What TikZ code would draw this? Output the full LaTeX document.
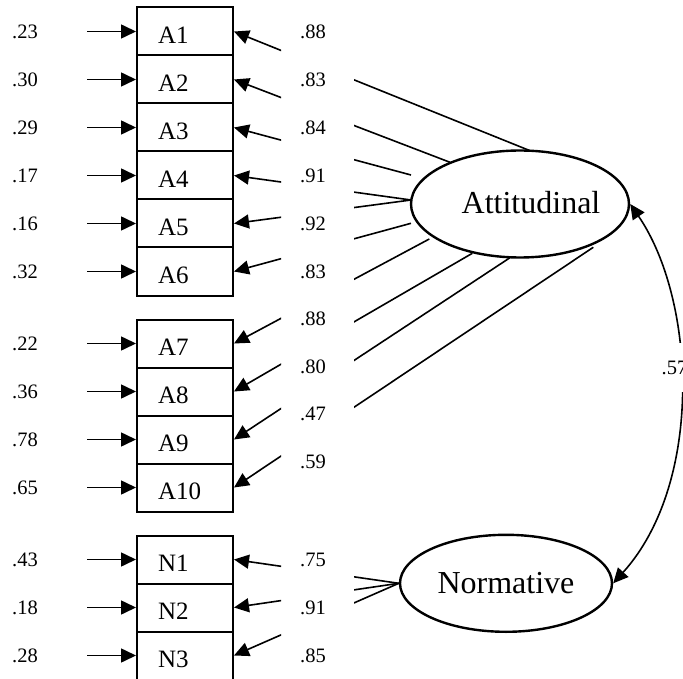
\documentclass[tikz,border=0pt]{standalone}
\usepackage{fontspec}
\setmainfont{Liberation Serif}
\usetikzlibrary{arrows.meta,shapes.geometric,calc}

\begin{document}
\begin{tikzpicture}[x=1pt,y=-1pt,
  item/.style={draw, line width=2pt, rectangle, minimum width=96pt,
    minimum height=48pt, inner sep=0pt, text width=54pt, align=left,
    text height=24pt, text depth=0pt, font=\fontsize{25}{25}\selectfont},
  latent/.style={draw, ellipse, line width=2.4pt, inner sep=0pt,
    font=\fontsize{32}{32}\selectfont},
  num/.style={anchor=base west, inner sep=0pt, font=\fontsize{20.5}{20.5}\selectfont},
  link/.style={line width=1.6pt},
  tip/.style={-{Triangle[length=15pt,width=14pt]}},
  tips/.style={{Triangle[length=15pt,width=14pt]}-{Triangle[length=15pt,width=14pt]}}
]
\useasboundingbox (0,0) rectangle (683,679);
\clip (0,0) rectangle (683,679);

% observed indicators
\foreach \n/\y in {A1/31.5, A2/79.5, A3/127.5, A4/175.5, A5/223.5, A6/271.5,
                   A7/343.5, A8/391.5, A9/439.5, A10/487.5,
                   N1/559.5, N2/607.5, N3/655.5}
  \node[item] (\n) at (185,\y) {\n};

% latent factors
\node[latent, minimum width=218pt, minimum height=107pt] (att) at (520,204)
  {\hspace*{11pt}\raisebox{3pt}{Attitudinal}\hspace*{-11pt}};
\node[latent, minimum width=212pt, minimum height=97pt] (nor) at (506,583.3)
  {\raisebox{-2pt}{Normative}};

% where each loading leaves the attitudinal factor
\coordinate (t1)  at ($(att.center)+(10,-53.3)$);
\coordinate (t2)  at ($(att.center)+(-70,-41.7)$);
\coordinate (t3)  at ($(att.center)+(-109,-29)$);
\coordinate (t4)  at ($(att.center)+(-109,-4)$);
\coordinate (t5)  at ($(att.center)+(-109,-4)$);
\coordinate (t6)  at ($(att.center)+(-109,19.3)$);
\coordinate (t7)  at ($(att.center)+(-90.7,35)$);
\coordinate (t8)  at ($(att.center)+(-47.7,49.3)$);
\coordinate (t9)  at ($(att.center)+(-10,53.7)$);
\coordinate (t10) at ($(att.center)+(73.3,43.3)$);

% error terms
\foreach \n in {A1,A2,A3,A4,A5,A6,A7,A8,A9,A10,N1,N2,N3}
  \draw[link,tip] ([xshift=-49pt]\n.west) -- (\n.west);

% loadings, arrow part next to the indicators
\begin{scope}
  \clip (0,0) rectangle (281,679);
  \foreach \i in {1,...,10}
    \draw[link,tip] (t\i) -- (A\i.east);
  \foreach \i in {1,2,3}
    \draw[link,tip] (nor.west) -- (N\i.east);
\end{scope}

% loadings, line part next to the factors
\begin{scope}
  \clip (354,0) rectangle (683,679);
  \foreach \i in {1,...,10}
    \draw[link] (t\i) -- (A\i.east);
  \foreach \i in {1,2,3}
    \draw[link] (nor.west) -- (N\i.east);
\end{scope}

% error variances
\foreach \v/\y [count=\k] in {.23/31.5, .30/79.5, .29/127.5, .17/175.5, .16/223.5,
    .32/271.5, .22/343.5, .36/391.5, .78/439.5, .65/487.5,
    .43/559.5, .18/607.5, .28/655.5}
  \node[num] (e\k) at (12,\y+7) {\v};

% standardised loadings
\foreach \v/\y [count=\k] in {.88/31.5, .83/79.5, .84/127.5, .91/175.5, .92/223.5,
    .83/271.5, .88/318, .80/366, .47/413.5, .59/461.5,
    .75/559.5, .91/607.5, .85/655.5}
  \node[num] (l\k) at (300,\y+7) {\v};

% factor correlation
\draw[link,tips] (att.east) .. controls +(66,96.5) and +(90.5,-100.2) .. (nor.east);
\node[fill=white, inner xsep=2pt, inner ysep=0pt, minimum height=49pt,
      font=\fontsize{20.5}{20.5}\selectfont] (r) at (674.5,367.5) {.57};
\end{tikzpicture}
\end{document}
